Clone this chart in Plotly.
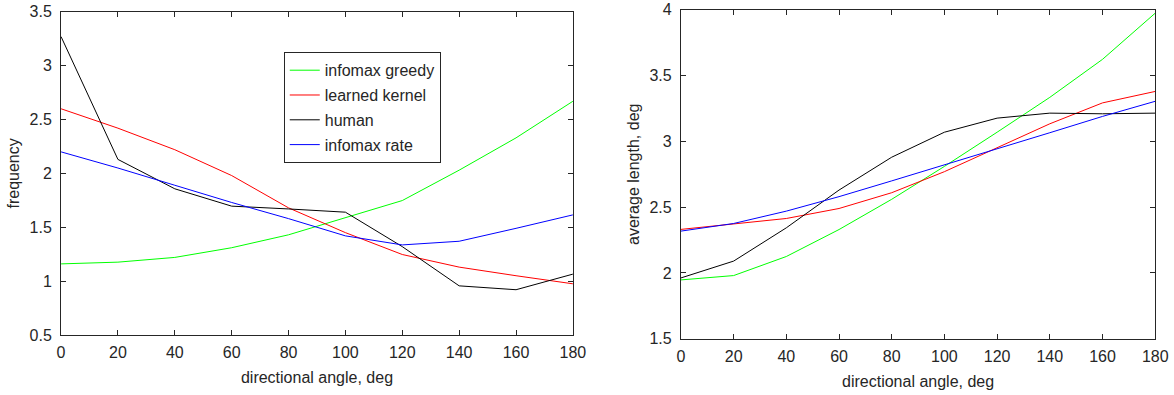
import plotly.graph_objects as go

angles = [0, 20, 40, 60, 80, 100, 120, 140, 160, 180]

# left panel: frequency
freq_greedy = [1.16, 1.176, 1.22, 1.31, 1.43, 1.59, 1.748, 2.03, 2.33, 2.67]
freq_kernel = [2.6, 2.42, 2.22, 1.98, 1.68, 1.45, 1.247, 1.13, 1.05, 0.975]
freq_human = [3.27, 2.13, 1.857, 1.696, 1.67, 1.64, 1.32, 0.956, 0.92, 1.065]
freq_rate = [2.2, 2.05, 1.89, 1.73, 1.58, 1.42, 1.336, 1.37, 1.49, 1.615]

# right panel: average length
len_greedy = [1.947, 1.98, 2.125, 2.33, 2.56, 2.81, 3.07, 3.335, 3.624, 3.975]
len_kernel = [2.331, 2.37, 2.414, 2.49, 2.61, 2.77, 2.954, 3.134, 3.293, 3.38]
len_human = [1.962, 2.09, 2.343, 2.63, 2.88, 3.07, 3.177, 3.215, 3.21, 3.215]
len_rate = [2.318, 2.376, 2.47, 2.58, 2.70, 2.82, 2.946, 3.066, 3.19, 3.305]

names = ["infomax greedy", "learned kernel", "human", "infomax rate"]
colors = ["#00ff00", "#ff0000", "#000000", "#0000ff"]

fig = go.Figure()
for i, (name, col, ys) in enumerate(zip(names, colors, [freq_greedy, freq_kernel, freq_human, freq_rate])):
    fig.add_trace(go.Scatter(x=angles, y=ys, mode="lines", name=name, legendgroup=f"g{i}",
                             line=dict(color=col, width=1), xaxis="x", yaxis="y"))
for name, col, ys in zip(names, colors, [len_greedy, len_kernel, len_human, len_rate]):
    fig.add_trace(go.Scatter(x=angles, y=ys, mode="lines", name=name, showlegend=False,
                             line=dict(color=col, width=1), xaxis="x2", yaxis="y2"))

axcol = "#262626"
common = dict(showgrid=False, zeroline=False, showline=True, linecolor=axcol, linewidth=1,
              mirror="ticks", ticks="inside", ticklen=5, tickcolor=axcol,
              tickfont=dict(size=16, color=axcol), automargin=False,
              ticklabeloverflow="allow")
xticks = dict(tickmode="array", tickvals=angles, ticktext=[str(a) for a in angles],
              ticklabelstandoff=3)
ytick_extra = dict(ticklabelstandoff=5)
title_font = dict(size=16, color=axcol)

fig.update_layout(
    width=1174, height=395,
    margin=dict(l=0, r=0, t=0, b=0, autoexpand=False),
    paper_bgcolor="white", plot_bgcolor="white",
    font=dict(family="Liberation Sans, Arial, sans-serif", color=axcol),
    xaxis=dict(domain=[0.052, 0.488], range=[0, 180], anchor="y",
               title=dict(text="directional angle, deg", font=title_font, standoff=11),
               **xticks, **common),
    yaxis=dict(domain=[0.152, 0.970], range=[0.5, 3.5], anchor="x",
               tickmode="array", tickvals=[0.5, 1, 1.5, 2, 2.5, 3, 3.5],
               ticktext=["0.5", "1", "1.5", "2", "2.5", "3", "3.5"],
               title=dict(text="frequency", font=title_font, standoff=5),
               **ytick_extra, **common),
    xaxis2=dict(domain=[0.580, 0.984], range=[0, 180], anchor="y2",
                title=dict(text="directional angle, deg", font=title_font, standoff=11),
                **xticks, **common),
    yaxis2=dict(domain=[0.1425, 0.975], range=[1.5, 4], anchor="x2",
                tickmode="array", tickvals=[1.5, 2, 2.5, 3, 3.5, 4],
                ticktext=["1.5", "2", "2.5", "3", "3.5", "4"],
                title=dict(text="average length, deg", font=title_font, standoff=5),
                **ytick_extra, **common),
    legend=dict(x=0.2417, y=0.8676, xanchor="left", yanchor="top",
                bgcolor="white", bordercolor=axcol, borderwidth=1,
                font=dict(size=16, color=axcol), tracegroupgap=1, itemwidth=30),
    showlegend=True,
)

fig.write_html("out.html")
